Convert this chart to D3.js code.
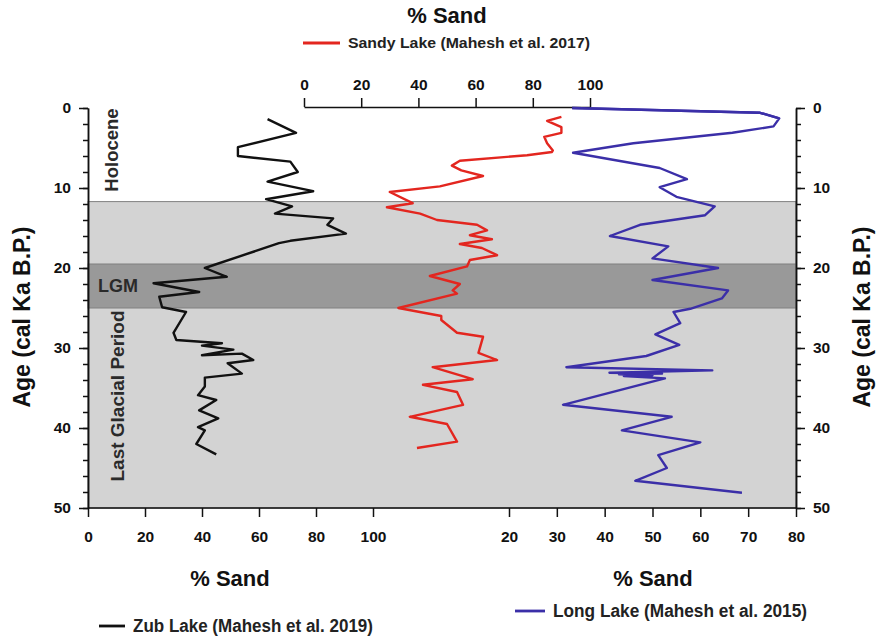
<!DOCTYPE html>
<html>
<head>
<meta charset="utf-8">
<script src="https://cdn.jsdelivr.net/npm/d3@7"></script>
<style>
  body { margin: 0; background: #fff; }
  svg text { font-family: "Liberation Sans", Arial, sans-serif; }
</style>
</head>
<body>
<div id="chart"></div>
<script>
// Zub Lake (black, bottom-left axis)
var zubAge  = [1.4, 3.1, 4.9, 6.0, 6.7, 8.0, 9.2, 10.4, 11.4, 12.3, 13.2, 13.8, 14.6, 15.7, 16.6, 16.9, 20.0, 21.1, 21.9, 23.0, 23.6, 24.9, 25.5, 28.1, 29.0, 29.4, 29.7, 30.2, 30.9, 30.7, 31.5, 31.9, 33.2, 33.7, 34.8, 35.9, 36.5, 37.8, 38.8, 39.9, 40.3, 42.0, 43.3];
var zubSand = [63, 73, 52.6, 52.6, 71, 73.6, 63, 79, 62.5, 71.6, 65.6, 86, 84, 90.5, 71, 67, 41, 48.7, 23, 39, 25, 26, 34.4, 30, 31, 47, 40, 51, 40, 54, 58, 49, 54, 41, 41, 38.6, 45, 39, 45.7, 38.6, 41, 38, 45];

// Sandy Lake (red, top axis)
var sandyAge  = [1.1, 1.6, 2.4, 3.1, 3.6, 4.4, 5.3, 5.5, 5.9, 6.6, 7.2, 7.8, 8.5, 9.8, 10.5, 11.9, 12.4, 13.2, 14.0, 14.6, 15.3, 15.9, 16.4, 17.0, 17.5, 18.4, 19.0, 19.8, 21.0, 22.0, 22.8, 23.2, 25.0, 26.0, 26.5, 28.1, 28.6, 30.6, 31.5, 32.4, 33.9, 34.6, 35.5, 37.1, 38.6, 39.5, 41.7, 42.5];
var sandySand = [90, 85, 90, 90, 84, 85, 87, 86.7, 78, 54.5, 51.7, 55, 62.6, 47.5, 30, 38, 29, 40.6, 46.5, 60.5, 64, 58, 65.7, 54.5, 62.2, 67.5, 58, 57, 44, 54.5, 52, 53.5, 33, 48, 48, 53.5, 62.6, 61, 67.5, 45, 59, 41.6, 53.5, 55.6, 37, 50, 53.5, 39.5];

// Long Lake (blue, bottom-right axis)
var longAge  = [0.0, 0.6, 1.3, 2.3, 3.1, 4.4, 5.6, 7.5, 8.9, 9.9, 11.1, 12.3, 13.4, 14.6, 16.0, 17.3, 18.8, 20.0, 21.5, 22.8, 23.8, 25.1, 25.5, 26.9, 28.3, 29.6, 31.0, 32.4, 32.8, 33.1, 33.2, 33.3, 33.4, 33.5, 33.8, 37.1, 38.6, 40.3, 41.8, 43.4, 45.0, 46.6, 48.1];
var longSand = [33.2, 72.5, 76.5, 75.3, 66.7, 46, 33.4, 51.5, 57.2, 51.5, 55, 63, 61, 47.4, 41.1, 53.3, 50, 63.7, 50, 65.8, 64.5, 57.9, 54.4, 55.8, 50.6, 55.6, 48.7, 32, 62.5, 41, 52, 43, 50, 44, 52.6, 31.3, 54, 43.6, 60, 51.2, 53, 46.4, 68.7];

// Periods
var periodNames = ["Last Glacial Period", "LGM"];
var periodStart = [11.7, 19.5];
var periodEnd   = [50, 25];
var periodFill  = ["#d3d3d3", "#999999"];

var ageTicks   = [0, 10, 20, 30, 40, 50];
var zubTicks   = [0, 20, 40, 60, 80, 100];
var sandyTicks = [0, 20, 40, 60, 80, 100];
var longTicks  = [20, 30, 40, 50, 60, 70, 80];

var width = 882, height = 636;
var svg = d3.select("#chart").append("svg")
  .attr("width", width)
  .attr("height", height);

var y = d3.scaleLinear().domain([0, 50]).range([108, 508]);
var xZub = d3.scaleLinear().domain([0, 100]).range([88, 373]);
var xSandy = d3.scaleLinear().domain([0, 100]).range([304, 590]);
var xLong = d3.scaleLinear().domain([20, 80]).range([509, 796]);
var left = 88, right = 796;

// shaded periods
periodStart.forEach(function(s, i) {
  svg.append("rect")
    .attr("x", left).attr("width", right - left)
    .attr("y", y(s)).attr("height", y(periodEnd[i]) - y(s))
    .attr("fill", periodFill[i])
    .attr("stroke", "#808080").attr("stroke-width", 1);
});

// series lines
function drawLine(ages, vals, xs, color) {
  var pts = ages.map(function(a, i) { return [xs(vals[i]), y(a)]; });
  svg.append("path")
    .attr("d", d3.line()(pts))
    .attr("fill", "none")
    .attr("stroke", color)
    .attr("stroke-width", 2.4)
    .attr("stroke-linejoin", "round");
}
drawLine(zubAge, zubSand, xZub, "#111111");
drawLine(sandyAge, sandySand, xSandy, "#e3261f");
drawLine(longAge, longSand, xLong, "#3b2fa8");

function styleAxis(g) {
  g.selectAll("path, line").attr("stroke", "#111").attr("stroke-width", 1.5);
  g.selectAll("text").attr("font-size", 15.5).attr("font-weight", "bold").attr("fill", "#111");
}

// left age axis
var minorTicks = d3.range(0, 51, 2);
svg.append("g").attr("transform", "translate(" + left + ",0)")
  .call(d3.axisLeft(y).tickValues(minorTicks).tickSize(5).tickSizeOuter(0).tickFormat(""))
  .call(styleAxis);
svg.append("g").attr("transform", "translate(" + left + ",0)")
  .call(d3.axisLeft(y).tickValues(ageTicks).tickSize(9).tickSizeOuter(0).tickPadding(8))
  .call(styleAxis);

// right age axis
svg.append("g").attr("transform", "translate(" + right + ",0)")
  .call(d3.axisRight(y).tickValues(minorTicks).tickSize(5).tickSizeOuter(0).tickFormat(""))
  .call(styleAxis);
svg.append("g").attr("transform", "translate(" + right + ",0)")
  .call(d3.axisRight(y).tickValues(ageTicks).tickSize(9).tickSizeOuter(0).tickPadding(8))
  .call(styleAxis);

// bottom axes
svg.append("line")
  .attr("x1", left).attr("x2", right).attr("y1", 508).attr("y2", 508)
  .attr("stroke", "#111").attr("stroke-width", 1.5);
svg.append("g").attr("transform", "translate(0,508)")
  .call(d3.axisBottom(xZub).tickValues(zubTicks).tickSize(9).tickPadding(14))
  .call(styleAxis)
  .call(function(g) { g.select(".domain").remove(); });
svg.append("g").attr("transform", "translate(0,508)")
  .call(d3.axisBottom(xLong).tickValues(longTicks).tickSize(9).tickPadding(14))
  .call(styleAxis)
  .call(function(g) { g.select(".domain").remove(); });

// top Sandy axis
svg.append("g").attr("transform", "translate(0,107)")
  .call(d3.axisTop(xSandy).tickValues(sandyTicks).tickSize(9).tickSizeOuter(0).tickPadding(8))
  .call(styleAxis);

// redraw top part of blue line over the axis
drawLine(longAge.slice(0, 3), longSand.slice(0, 3), xLong, "#3b2fa8");

// axis titles
function title(x, yy, txt, size, rot) {
  svg.append("text")
    .attr("transform", "translate(" + x + "," + yy + ")" + (rot ? " rotate(" + rot + ")" : ""))
    .attr("text-anchor", "middle")
    .attr("dominant-baseline", "central")
    .attr("font-size", size)
    .attr("font-weight", "bold")
    .attr("fill", "#111")
    .text(txt);
}
title(447, 15, "% Sand", 22);
title(230, 578, "% Sand", 22);
title(653, 578, "% Sand", 22);
title(22, 317, "Age (cal Ka B.P.)", 23, -90);
title(862, 317, "Age (cal Ka B.P.)", 23, -90);

// period labels
svg.append("text")
  .attr("transform", "translate(111,150) rotate(-90)")
  .attr("text-anchor", "middle").attr("dominant-baseline", "central")
  .attr("font-size", 18.5).attr("font-weight", "bold").attr("fill", "#2a2a2a").text("Holocene");
svg.append("text")
  .attr("transform", "translate(117,396) rotate(-90)")
  .attr("text-anchor", "middle").attr("dominant-baseline", "central")
  .attr("font-size", 19).attr("font-weight", "bold").attr("fill", "#2a2a2a").text(periodNames[0]);
svg.append("text")
  .attr("x", 118).attr("y", 286)
  .attr("text-anchor", "middle").attr("dominant-baseline", "central")
  .attr("font-size", 18).attr("font-weight", "bold").attr("fill", "#2a2a2a").text(periodNames[1]);

// legends
function legend(x, yy, color, txt, lineLen, textLen, narrow) {
  svg.append("line")
    .attr("x1", x).attr("x2", x + lineLen).attr("y1", yy).attr("y2", yy)
    .attr("stroke", color).attr("stroke-width", 2.8);
  svg.append("text")
    .attr("x", x + lineLen + 8).attr("y", yy)
    .attr("dominant-baseline", "central")
    .attr("font-size", narrow ? 18 : 14.5)
    .attr("font-weight", "bold")
    .attr("fill", "#222")
    .attr("textLength", textLen)
    .attr("lengthAdjust", "spacingAndGlyphs")
    .text(txt);
}
legend(303, 43, "#e3261f", "Sandy Lake (Mahesh et al. 2017)", 37, 242, false);
legend(99, 626, "#111111", "Zub Lake (Mahesh et al. 2019)", 26, 240, true);
legend(515, 611, "#3b2fa8", "Long Lake (Mahesh et al. 2015)", 30, 254, true);
</script>
</body>
</html>
